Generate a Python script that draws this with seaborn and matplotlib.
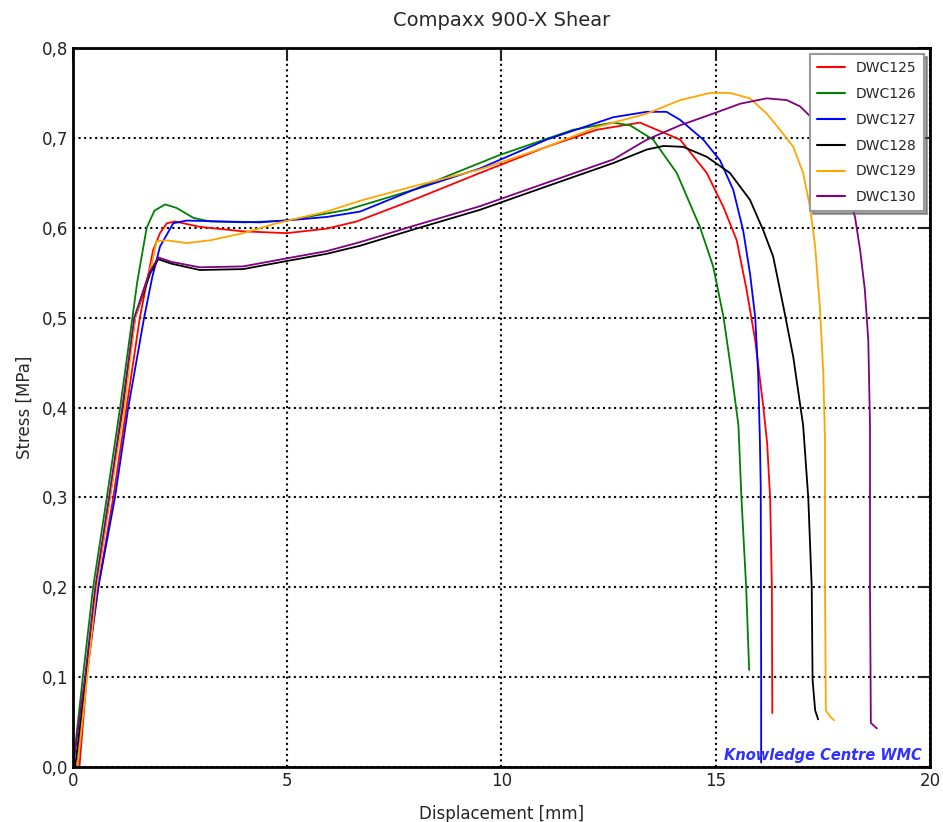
import pandas as pd
import matplotlib
matplotlib.use("Agg")
import matplotlib.pyplot as plt
from matplotlib.ticker import FuncFormatter
import seaborn as sns

sns.set_style("white")
plt.rcParams['font.family'] = ['DejaVu Sans']

# curves (displacement mm, stress MPa)
dwc125_x = [0.15, 0.32, 0.59, 0.94, 1.25, 1.56, 1.87, 2.03, 2.19, 2.38, 2.96, 3.97, 4.99, 5.92, 6.62, 7.94,
            9.5, 11.05, 12.22, 13.23, 14.17, 14.79, 15.18, 15.49, 15.72, 15.92, 16.11, 16.2, 16.27, 16.31, 16.32]
dwc125_y = [0.0, 0.1, 0.2, 0.3, 0.4, 0.5, 0.575, 0.594, 0.605, 0.607, 0.601, 0.596, 0.594, 0.599, 0.607, 0.631,
            0.661, 0.69, 0.709, 0.717, 0.698, 0.661, 0.623, 0.586, 0.531, 0.475, 0.401, 0.36, 0.299, 0.2, 0.06]

dwc126_x = [0.0, 0.23, 0.47, 0.79, 1.1, 1.33, 1.5, 1.72, 1.9, 2.15, 2.42, 2.81, 3.2, 4.0, 5.0, 6.4, 7.93,
            9.96, 11.67, 12.6, 13.0, 13.54, 14.09, 14.63, 14.94, 15.18, 15.37, 15.53, 15.6, 15.71, 15.78]
dwc126_y = [0.0, 0.1, 0.2, 0.3, 0.4, 0.48, 0.54, 0.6, 0.619, 0.626, 0.622, 0.611, 0.607, 0.606, 0.608, 0.62, 0.642,
            0.681, 0.709, 0.717, 0.714, 0.698, 0.661, 0.601, 0.557, 0.501, 0.438, 0.38, 0.299, 0.2, 0.108]

dwc127_x = [0.1, 0.3, 0.59, 0.98, 1.29, 1.66, 1.85, 2.03, 2.34, 2.65, 3.5, 4.36, 5.2, 5.92, 6.7, 7.94, 9.5,
            11.05, 12.61, 13.39, 13.85, 14.17, 14.71, 15.1, 15.41, 15.64, 15.8, 15.92, 15.99, 16.03, 16.05,
            16.06, 16.06]
dwc127_y = [0.0, 0.1, 0.2, 0.3, 0.4, 0.5, 0.545, 0.579, 0.605, 0.608, 0.607, 0.606, 0.609, 0.612, 0.618, 0.642,
            0.666, 0.698, 0.723, 0.729, 0.729, 0.72, 0.698, 0.675, 0.642, 0.597, 0.549, 0.501, 0.438, 0.364,
            0.312, 0.1, 0.005]

dwc128_x = [0.05, 0.3, 0.54, 0.86, 1.17, 1.45, 1.8, 1.99, 2.3, 2.96, 3.97, 4.99, 5.92, 6.7, 7.94, 9.5, 11.05,
            12.61, 13.39, 13.78, 14.24, 14.79, 15.33, 15.8, 16.11, 16.34, 16.58, 16.81, 17.04, 17.16, 17.24,
            17.26, 17.32, 17.39]
dwc128_y = [0.0, 0.1, 0.2, 0.3, 0.4, 0.5, 0.549, 0.565, 0.56, 0.553, 0.554, 0.563, 0.571, 0.58, 0.598, 0.62,
            0.646, 0.672, 0.687, 0.691, 0.69, 0.679, 0.661, 0.631, 0.597, 0.568, 0.512, 0.456, 0.38, 0.299, 0.2,
            0.097, 0.063, 0.053]

dwc129_x = [0.1, 0.33, 0.55, 0.86, 1.2, 1.45, 1.84, 1.95, 2.19, 2.65, 3.2, 3.97, 4.75, 5.92, 6.7, 7.94, 9.5,
            11.05, 12.22, 13.39, 14.17, 14.87, 15.33, 15.8, 16.19, 16.5, 16.81, 17.04, 17.2, 17.32, 17.43,
            17.51, 17.55, 17.55, 17.57, 17.67, 17.76]
dwc129_y = [0.0, 0.1, 0.2, 0.3, 0.4, 0.5, 0.56, 0.585, 0.586, 0.583, 0.586, 0.594, 0.605, 0.618, 0.63, 0.646,
            0.665, 0.69, 0.712, 0.727, 0.742, 0.75, 0.75, 0.744, 0.727, 0.709, 0.69, 0.661, 0.623, 0.579, 0.512,
            0.438, 0.364, 0.2, 0.063, 0.056, 0.052]

dwc130_x = [0.0, 0.28, 0.52, 0.84, 1.15, 1.43, 1.78, 1.99, 2.3, 2.96, 3.97, 4.99, 5.92, 6.7, 7.94, 9.5, 11.05,
            12.61, 13.39, 14.17, 14.94, 15.57, 16.19, 16.66, 16.97, 17.5, 17.9, 18.25, 18.37, 18.48, 18.56,
            18.6, 18.6, 18.62, 18.76]
dwc130_y = [0.0, 0.1, 0.2, 0.3, 0.4, 0.5, 0.55, 0.567, 0.562, 0.556, 0.557, 0.566, 0.574, 0.584, 0.602, 0.624,
            0.65, 0.676, 0.698, 0.714, 0.727, 0.738, 0.744, 0.742, 0.735, 0.71, 0.67, 0.612, 0.575, 0.531, 0.475,
            0.38, 0.2, 0.049, 0.043]

samples = ['DWC125', 'DWC126', 'DWC127', 'DWC128', 'DWC129', 'DWC130']
colors = ['#ff0000', '#008000', '#0000ff', '#000000', '#ffa500', '#800080']

curves = {
    'DWC125': (dwc125_x, dwc125_y),
    'DWC126': (dwc126_x, dwc126_y),
    'DWC127': (dwc127_x, dwc127_y),
    'DWC128': (dwc128_x, dwc128_y),
    'DWC129': (dwc129_x, dwc129_y),
    'DWC130': (dwc130_x, dwc130_y),
}

frames = []
for name in samples:
    x, y = curves[name]
    d = pd.DataFrame({'Displacement': x, 'Stress': y})
    d['Sample'] = name
    frames.append(d)
df = pd.concat(frames, ignore_index=True)

fig = plt.figure(figsize=(9.43, 8.22), dpi=100)
ax = fig.add_axes([0.0774, 0.0669, 0.9088, 0.8747])

sns.lineplot(data=df, x='Displacement', y='Stress', hue='Sample', hue_order=samples,
             palette=colors, sort=False, estimator=None, units='Sample', linewidth=1.3, ax=ax)

ax.set_xlim(0, 20)
ax.set_ylim(0, 0.8)
ax.set_xticks([0, 5, 10, 15, 20])
ax.set_yticks([0.0, 0.1, 0.2, 0.3, 0.4, 0.5, 0.6, 0.7, 0.8])
ax.yaxis.set_major_formatter(FuncFormatter(lambda v, p: f"{v:.1f}".replace('.', ',')))
ax.grid(True, color='black', linestyle=':', linewidth=1.5)
ax.set_axisbelow(True)

for s in ax.spines.values():
    s.set_color('black')
    s.set_linewidth(2)
ax.tick_params(direction='in', length=9, width=1.5, top=True, right=True, labelsize=12, colors='#222222')

ax.set_title('Compaxx 900-X Shear', fontsize=14, pad=16)
ax.set_xlabel('Displacement [mm]', fontsize=12, labelpad=11)
ax.set_ylabel('Stress [MPa]', fontsize=12, labelpad=6)

ax.text(19.8, 0.013, 'Knowledge Centre WMC', color='#3030ff', fontsize=10.5,
        fontweight='bold', fontstyle='italic', ha='right', va='center')

leg = ax.legend(loc='upper right', fontsize=10, frameon=True, fancybox=False, shadow=True,
                borderaxespad=0.45, handlelength=2.0, labelspacing=0.85, borderpad=0.5)
leg.get_frame().set_edgecolor('#999999')
leg.get_frame().set_linewidth(1.5)
for line in leg.get_lines():
    line.set_linewidth(1.5)

fig.savefig('out.png', dpi=100)
